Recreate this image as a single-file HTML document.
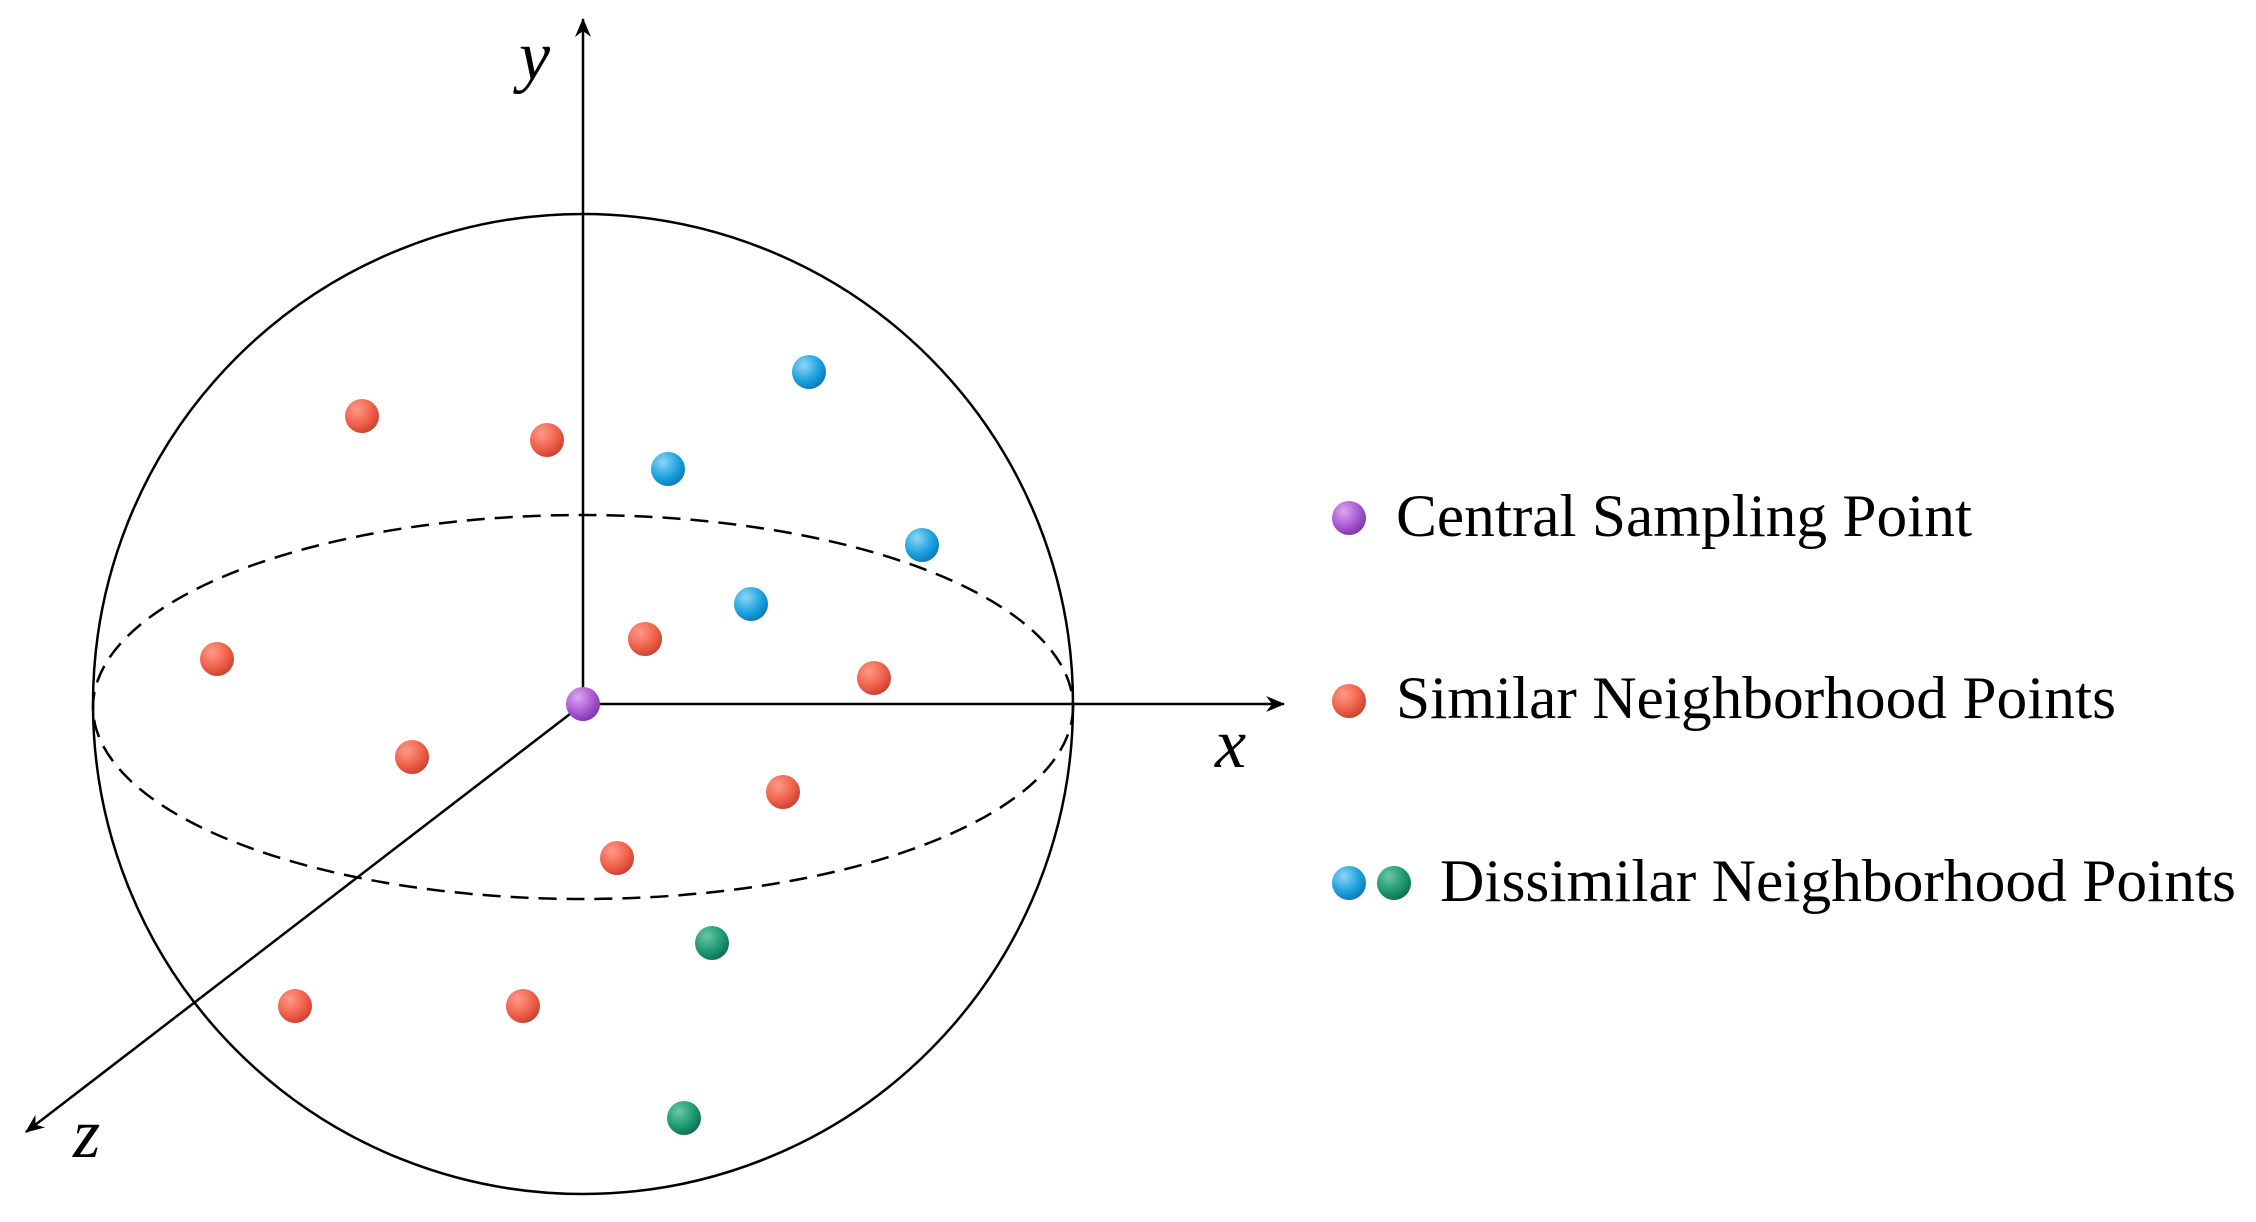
<!DOCTYPE html>
<html><head><meta charset="utf-8"><style>
html,body{margin:0;padding:0;background:#fff;}
svg{display:block;}
text{font-family:"Liberation Serif",serif;fill:#000;}
</style></head><body>
<svg width="2256" height="1222" viewBox="0 0 2256 1222" xmlns="http://www.w3.org/2000/svg">
<defs>
<radialGradient id="r" cx="35%" cy="30%" r="75%"><stop offset="0" stop-color="#ff9a88"/><stop offset="0.6" stop-color="#f0624c"/><stop offset="1" stop-color="#c8402e"/></radialGradient>
<radialGradient id="b" cx="35%" cy="30%" r="75%"><stop offset="0" stop-color="#8fd6f5"/><stop offset="0.6" stop-color="#1ea3e0"/><stop offset="1" stop-color="#0a78b8"/></radialGradient>
<radialGradient id="g" cx="35%" cy="30%" r="75%"><stop offset="0" stop-color="#6cc6a6"/><stop offset="0.6" stop-color="#1f9a72"/><stop offset="1" stop-color="#0c6e50"/></radialGradient>
<radialGradient id="p" cx="35%" cy="30%" r="75%"><stop offset="0" stop-color="#dba6f0"/><stop offset="0.6" stop-color="#a85ad0"/><stop offset="1" stop-color="#7c34a8"/></radialGradient>
<marker id="ah" viewBox="0 0 20 20" refX="18" refY="10" markerWidth="20" markerHeight="20" markerUnits="userSpaceOnUse" orient="auto">
<path d="M0,2 L19,10 L0,18 L6,10 Z" fill="#000"/></marker>
</defs>
<g transform="translate(-3,-3)">
<circle cx="586" cy="707" r="490" fill="none" stroke="#000" stroke-width="2.5"/>
<ellipse cx="586" cy="710" rx="490" ry="192" fill="none" stroke="#000" stroke-width="2.5" stroke-dasharray="18,10"/>
<line x1="586" y1="707" x2="586" y2="22" stroke="#000" stroke-width="2.5" marker-end="url(#ah)"/>
<line x1="586" y1="707" x2="1287" y2="707" stroke="#000" stroke-width="2.5" marker-end="url(#ah)"/>
<line x1="586" y1="707" x2="29" y2="1135" stroke="#000" stroke-width="2.5" marker-end="url(#ah)"/>
<text x="522" y="82" font-size="70" font-style="italic">y</text>
<text x="1218" y="770" font-size="70" font-style="italic">x</text>
<text x="76" y="1160" font-size="70" font-style="italic">z</text>
<circle cx="365" cy="419" r="17" fill="url(#r)"/>
<circle cx="550" cy="443" r="17" fill="url(#r)"/>
<circle cx="220" cy="662" r="17" fill="url(#r)"/>
<circle cx="648" cy="642" r="17" fill="url(#r)"/>
<circle cx="877" cy="681" r="17" fill="url(#r)"/>
<circle cx="415" cy="760" r="17" fill="url(#r)"/>
<circle cx="786" cy="795" r="17" fill="url(#r)"/>
<circle cx="620" cy="861" r="17" fill="url(#r)"/>
<circle cx="298" cy="1009" r="17" fill="url(#r)"/>
<circle cx="526" cy="1009" r="17" fill="url(#r)"/>
<circle cx="812" cy="375" r="17" fill="url(#b)"/>
<circle cx="671" cy="472" r="17" fill="url(#b)"/>
<circle cx="925" cy="548" r="17" fill="url(#b)"/>
<circle cx="754" cy="607" r="17" fill="url(#b)"/>
<circle cx="715" cy="946" r="17" fill="url(#g)"/>
<circle cx="687" cy="1121" r="17" fill="url(#g)"/>
<circle cx="586" cy="707" r="17" fill="url(#p)"/>
</g>
<circle cx="1349" cy="518" r="17" fill="url(#p)"/>
<text x="1396" y="536" font-size="60" textLength="576" lengthAdjust="spacingAndGlyphs">Central Sampling Point</text>
<circle cx="1349" cy="701" r="17" fill="url(#r)"/>
<text x="1396" y="718" font-size="60" textLength="720" lengthAdjust="spacingAndGlyphs">Similar Neighborhood Points</text>
<circle cx="1349" cy="883" r="17" fill="url(#b)"/>
<circle cx="1394" cy="883" r="17" fill="url(#g)"/>
<text x="1440" y="901" font-size="60" textLength="796" lengthAdjust="spacingAndGlyphs">Dissimilar Neighborhood Points</text>
</svg>
</body></html>
